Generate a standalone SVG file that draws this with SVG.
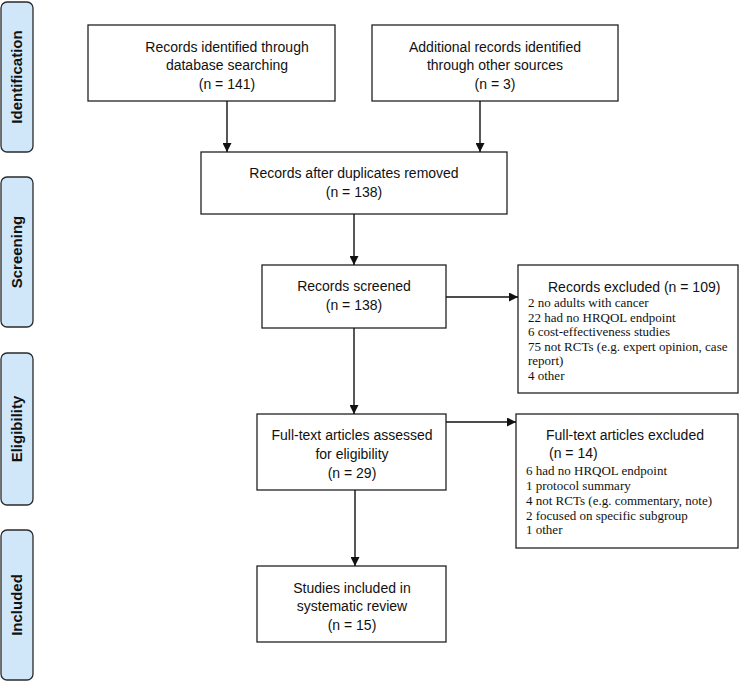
<svg xmlns="http://www.w3.org/2000/svg" width="740" height="682" viewBox="0 0 740 682">
<style>
.box{fill:#fff;stroke:#222;stroke-width:1.3}
.side{fill:#cfe7f9;stroke:#2a2a2a;stroke-width:1.3}
.t{font-family:"Liberation Sans",Arial,sans-serif;font-size:14px;fill:#111;text-anchor:middle}
.tl{font-family:"Liberation Sans",Arial,sans-serif;font-size:14px;fill:#111}
.s{font-family:"Liberation Serif","Times New Roman",serif;font-size:13px;fill:#111}
.lab{font-family:"Liberation Sans",Arial,sans-serif;font-size:15px;font-weight:bold;fill:#111;text-anchor:middle}
.c{fill:none;stroke:#111;stroke-width:1.4}
</style>
<defs>
<marker id="ah" viewBox="0 0 10 10" refX="10" refY="5" markerWidth="9" markerHeight="9" markerUnits="userSpaceOnUse" orient="auto">
<path d="M0,0 L10,5 L0,10 z" fill="#111"/>
</marker>
</defs>
<rect width="740" height="682" fill="#fff"/>

<g id="stage-identification">
<rect class="side" x="1" y="2" width="32" height="150" rx="6"/>
<text class="lab" transform="translate(22,77) rotate(-90)">Identification</text>
</g>
<g id="stage-screening">
<rect class="side" x="1" y="177" width="32" height="150" rx="6"/>
<text class="lab" transform="translate(22,252) rotate(-90)">Screening</text>
</g>
<g id="stage-eligibility">
<rect class="side" x="1" y="353" width="32" height="152" rx="6"/>
<text class="lab" transform="translate(22,429) rotate(-90)">Eligibility</text>
</g>
<g id="stage-included">
<rect class="side" x="1" y="530" width="32" height="150" rx="6"/>
<text class="lab" transform="translate(22,605) rotate(-90)">Included</text>
</g>

<g id="n-database">
<rect class="box" x="88" y="25" width="247" height="76"/>
<text class="t" x="227" y="52">Records identified through</text>
<text class="t" x="227" y="70">database searching</text>
<text class="t" x="227" y="89">(n =  141)</text>
</g>
<g id="n-other">
<rect class="box" x="372" y="25" width="246" height="76"/>
<text class="t" x="495" y="52">Additional records identified</text>
<text class="t" x="495" y="70">through other sources</text>
<text class="t" x="495" y="89">(n = 3)</text>
</g>
<g id="n-dedup">
<rect class="box" x="201" y="152" width="306" height="62"/>
<text class="t" x="354" y="178">Records after duplicates removed</text>
<text class="t" x="354" y="197">(n = 138)</text>
</g>
<g id="n-screened">
<rect class="box" x="262" y="265" width="184" height="63"/>
<text class="t" x="354" y="291">Records screened</text>
<text class="t" x="354" y="310">(n = 138)</text>
</g>
<g id="n-excluded">
<rect class="box" x="518" y="265" width="220" height="128"/>
<text class="tl" x="548" y="292">Records excluded (n = 109)</text>
<text class="s" x="528" y="307">2 no adults with cancer</text>
<text class="s" x="528" y="322">22 had no HRQOL endpoint</text>
<text class="s" x="528" y="336">6 cost-effectiveness studies</text>
<text class="s" x="528" y="351">75 not RCTs (e.g. expert opinion, case</text>
<text class="s" x="528" y="365">report)</text>
<text class="s" x="528" y="380">4 other</text>
</g>
<g id="n-ft-excluded">
<rect class="box" x="516" y="414" width="222" height="134"/>
<text class="tl" x="546" y="440">Full-text articles excluded</text>
<text class="tl" x="549" y="458">(n =  14)</text>
<text class="s" x="526" y="475">6 had no HRQOL endpoint</text>
<text class="s" x="526" y="490">1 protocol summary</text>
<text class="s" x="526" y="505">4 not RCTs (e.g. commentary, note)</text>
<text class="s" x="526" y="520">2 focused on specific subgroup</text>
<text class="s" x="526" y="534">1 other</text>
</g>
<g id="n-fulltext">
<rect class="box" x="257" y="414" width="189" height="76"/>
<text class="t" x="352" y="440">Full-text articles assessed</text>
<text class="t" x="352" y="459">for eligibility</text>
<text class="t" x="352" y="478">(n = 29)</text>
</g>
<g id="n-included">
<rect class="box" x="257" y="566" width="189" height="76"/>
<text class="t" x="352" y="593">Studies included in</text>
<text class="t" x="352" y="611">systematic review</text>
<text class="t" x="352" y="630">(n = 15)</text>
</g>

<g id="connectors">
<line class="c" x1="227" y1="101" x2="227" y2="152" marker-end="url(#ah)"/>
<line class="c" x1="480" y1="101" x2="480" y2="152" marker-end="url(#ah)"/>
<line class="c" x1="354" y1="214" x2="354" y2="265" marker-end="url(#ah)"/>
<line class="c" x1="446" y1="297" x2="518" y2="297" marker-end="url(#ah)"/>
<line class="c" x1="354" y1="328" x2="354" y2="414" marker-end="url(#ah)"/>
<line class="c" x1="446" y1="422" x2="516" y2="422" marker-end="url(#ah)"/>
<line class="c" x1="355" y1="490" x2="355" y2="566" marker-end="url(#ah)"/>
</g>
</svg>
